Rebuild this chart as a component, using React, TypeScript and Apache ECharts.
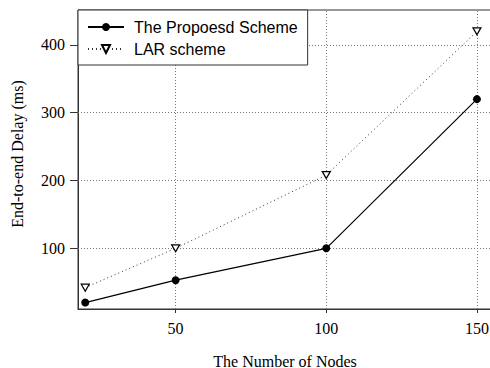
import React, { useEffect, useRef } from "react";
import * as echarts from "echarts";

// Number of nodes on the x axis
const nodes = [20, 50, 100, 150];
// End-to-end delay (ms) per scheme
const proposedDelay = [20, 53, 100, 320];
const larDelay = [42, 100, 208, 420];
// Tick values
const xTicks = [50, 100, 150];
const yTicks = [100, 200, 300, 400];

const seriesNames = ["The Propoesd Scheme", "LAR scheme"];

const serif = "'Liberation Serif', 'Times New Roman', serif";
const sans = "'Liberation Sans', Arial, sans-serif";

const triangleDown = "path://M0,0 L10,0 L5,9 Z";

export default function App() {
  const ref = useRef<HTMLDivElement>(null);

  useEffect(() => {
    if (!ref.current) return;
    const chart = echarts.init(ref.current, undefined, { renderer: "svg" });

    const gridLines = [
      ...xTicks.map((v) => ({ xAxis: v })),
      ...yTicks.map((v) => ({ yAxis: v })),
    ];

    chart.setOption({
      animation: false,
      backgroundColor: "#fff",
      grid: {
        left: 78,
        top: 10,
        right: -2,
        bottom: 59,
        outerBoundsMode: "none",
        containLabel: false,
        show: true,
        borderColor: "#333",
        borderWidth: 1,
        backgroundColor: "transparent",
      },
      legend: {
        left: 78,
        top: 10,
        orient: "vertical",
        backgroundColor: "#fff",
        borderColor: "#333",
        borderWidth: 1,
        borderRadius: 0,
        padding: [8, 10, 7, 9],
        itemGap: 4,
        itemWidth: 36,
        itemHeight: 10,
        textStyle: {
          fontFamily: sans,
          fontSize: 16,
          color: "#000",
          lineHeight: 18,
          padding: [0, 0, 0, 5],
        },
        data: seriesNames,
      },
      xAxis: {
        type: "value",
        min: 17.6,
        max: 155,
        axisLine: { show: true, lineStyle: { color: "#333", width: 1 } },
        axisTick: {
          show: true,
          inside: false,
          length: 4,
          customValues: xTicks,
          lineStyle: { color: "#333" },
        },
        axisLabel: {
          customValues: xTicks,
          fontFamily: serif,
          fontSize: 16,
          color: "#000",
          margin: 11,
        },
        splitLine: { show: false },
        name: "The Number of Nodes",
        nameLocation: "middle",
        nameGap: 44,
        nameTextStyle: { fontFamily: serif, fontSize: 16, color: "#000" },
      },
      yAxis: {
        type: "value",
        min: 10.5,
        max: 451.5,
        axisLine: { show: true, lineStyle: { color: "#333", width: 1 } },
        axisTick: {
          show: true,
          inside: false,
          length: 8,
          customValues: yTicks,
          lineStyle: { color: "#333" },
        },
        axisLabel: {
          customValues: yTicks,
          fontFamily: serif,
          fontSize: 16,
          color: "#000",
          margin: 13,
        },
        splitLine: { show: false },
      },
      graphic: [
        {
          type: "text",
          x: 17,
          y: 154,
          rotation: Math.PI / 2,
          style: {
            text: "End-to-end Delay (ms)",
            fontFamily: serif,
            fontSize: 16,
            fill: "#000",
            align: "center",
            verticalAlign: "middle",
          },
        },
      ],
      series: [
        {
          name: seriesNames[0],
          type: "line",
          data: nodes.map((n, i) => [n, proposedDelay[i]]),
          symbol: "circle",
          symbolSize: 8,
          itemStyle: { color: "#000" },
          lineStyle: { color: "#000", width: 1.2, type: "solid" },
          z: 3,
          markLine: {
            silent: true,
            symbol: ["none", "none"],
            label: { show: false },
            lineStyle: { color: "#777", width: 1, type: [1, 2] },
            data: gridLines,
            z: 1,
          },
        },
        {
          name: seriesNames[1],
          type: "line",
          data: nodes.map((n, i) => [n, larDelay[i]]),
          symbol: triangleDown,
          symbolSize: [8, 7],
          itemStyle: { color: "#fff", borderColor: "#000", borderWidth: 1.2 },
          lineStyle: { color: "#333", width: 1, type: [1, 3] },
          z: 3,
        },
      ],
    });

    return () => chart.dispose();
  }, []);

  return (
    <div
      ref={ref}
      style={{ position: "fixed", left: 0, top: 0, width: 490, height: 368 }}
    />
  );
}
